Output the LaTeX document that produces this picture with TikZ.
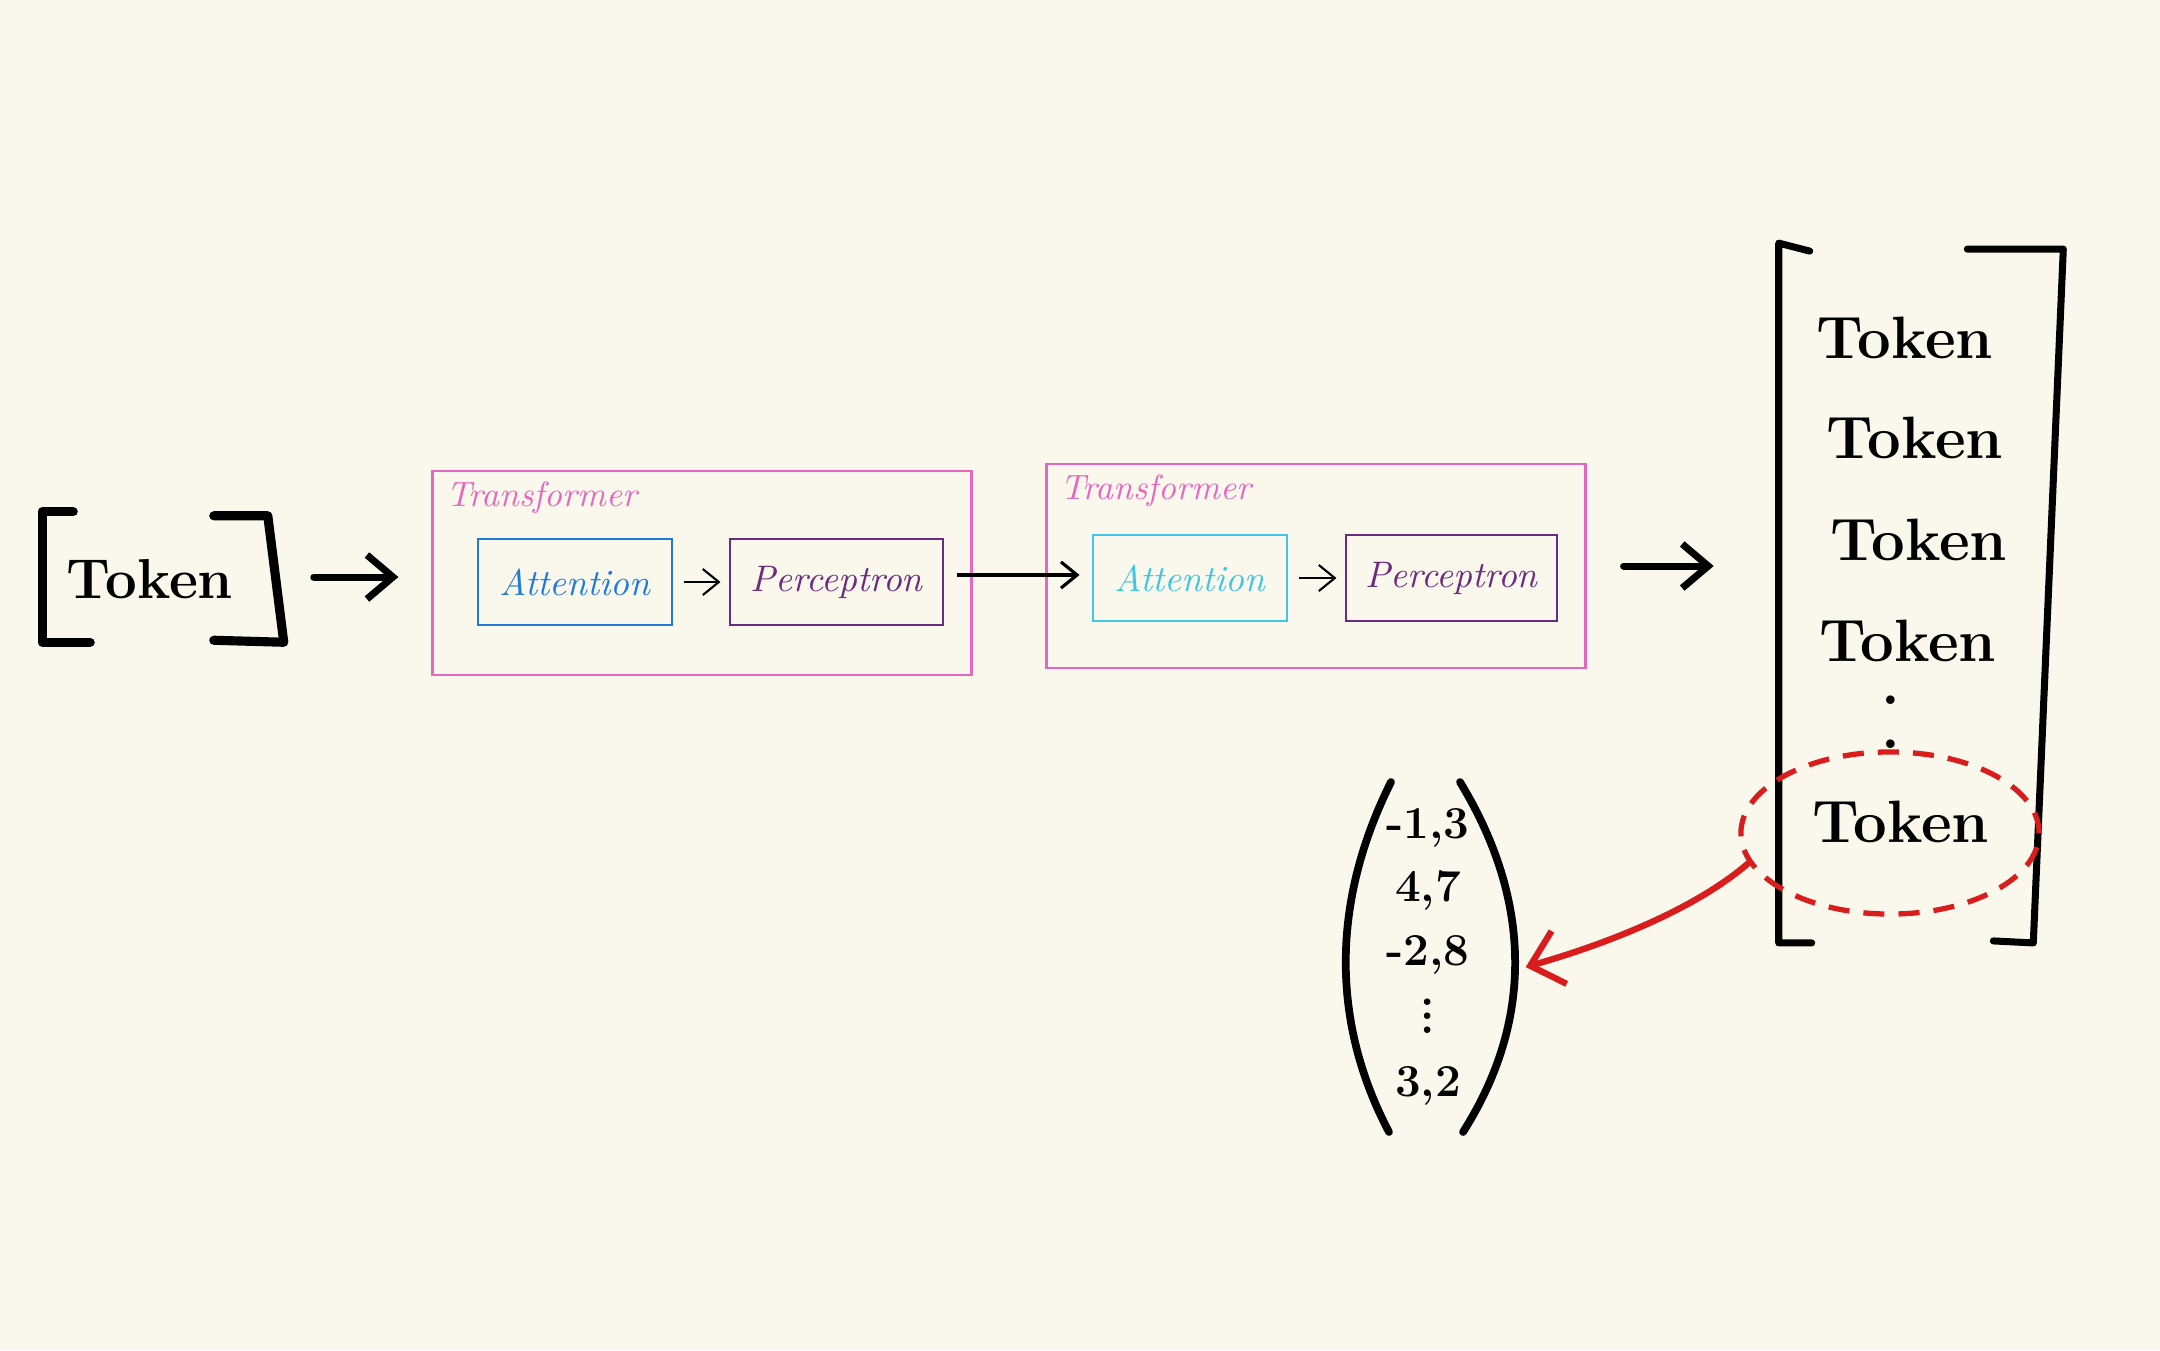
\documentclass[tikz,border=0pt]{standalone}
\usepackage{xcolor}
\usepackage{tikz}
\usetikzlibrary{arrows.meta,positioning,shapes.geometric,fit}
\definecolor{papercream}{HTML}{FAF8EC}
\definecolor{tfpink}{HTML}{E667C0}
\definecolor{attblue}{HTML}{1F7AD8}
\definecolor{attcyan}{HTML}{3FC6E5}
\definecolor{percpurple}{HTML}{6B2B7F}
\definecolor{selred}{HTML}{D91C1C}

\begin{document}
\begin{tikzpicture}[
  x=0.01cm,y=-0.01cm,
  tfbox/.style={draw=tfpink,line width=0.8pt,minimum width=5.38cm,minimum height=2.04cm},
  tflabel/.style={text=tfpink,font=\itshape\fontsize{10}{12}\selectfont,anchor=north west,inner sep=2pt},
  inbox/.style={draw,line width=0.8pt,minimum width=1.94cm,minimum height=0.86cm,font=\itshape\fontsize{10.5}{13}\selectfont},
  tok/.style={font=\bfseries\fontsize{17}{20}\selectfont,inner sep=1pt},
  num/.style={font=\bfseries\fontsize{13}{18}\selectfont,align=center},
  brk/.style={line width=2.6pt,line cap=round,line join=round},
  thinarr/.style={-{Straight Barb[length=1.6mm,width=2.6mm]},line width=0.6pt},
  bigarr/.style={-{Straight Barb[length=2.6mm,width=4.4mm]},line width=2pt,line cap=round}
]
\fill[papercream] (0,0) rectangle (2160,1350);

% input token
\node[minimum width=2.40cm,minimum height=1.29cm] (inseq) at (163,577) {};
\node[tok,font=\bfseries\fontsize{16}{20}\selectfont] (intok) at (150,579) {Token};
\draw[brk] ([shift={(31,0)}]inseq.north west) -- (inseq.north west) -- (inseq.south west) -- ([shift={(48,0)}]inseq.south west);
\draw[brk] ([shift={(-70,4)}]inseq.north east) -- ([shift={(-16,4)}]inseq.north east) -- (inseq.south east) -- ([shift={(-70,-2)}]inseq.south east);

% transformer blocks
\node[tfbox] (tf1) at (702,573) {};
\node[tflabel] (tf1lab) at ([shift={(7,4)}]tf1.north west) {Transformer};
\node[inbox,draw=attblue,text=attblue] (att1) at (575,582) {Attention};
\node[inbox,draw=percpurple,text=percpurple,minimum width=2.13cm,right=0.55cm of att1] (perc1) {Perceptron};

\node[tfbox] (tf2) at (1316,566) {};
\node[tflabel] (tf2lab) at ([shift={(7,4)}]tf2.north west) {Transformer};
\node[inbox,draw=attcyan,text=attcyan] (att2) at (1190,578) {Attention};
\node[inbox,draw=percpurple,text=percpurple,minimum width=2.11cm,right=0.56cm of att2] (perc2) {Perceptron};

\draw[thinarr,shorten <=0.11cm,shorten >=0.08cm] (att1) -- (perc1);
\draw[thinarr,shorten <=0.11cm,shorten >=0.08cm] (att2) -- (perc2);
\draw[thinarr,line width=0.9pt,shorten <=0.13cm,shorten >=0.12cm] ([yshift=2pt]perc1.east) -- ([yshift=2pt]perc1.east -| att2.west);

% output sequence
\node[minimum width=2.83cm,minimum height=6.98cm] (outseq) at (1921,593) {};
\draw[brk,line width=2pt] ([shift={(31,8)}]outseq.north west) -- (outseq.north west) -- (outseq.south west) -- ([shift={(33,0)}]outseq.south west);
\draw[brk,line width=2pt] ([shift={(-96,6)}]outseq.north east) -- ([shift={(0,6)}]outseq.north east) -- ([shift={(-30,0)}]outseq.south east) -- ([shift={(-70,-2)}]outseq.south east);
\node[tok] (out1) at (1905,338) {Token};
\node[tok] (out2) at (1915,438) {Token};
\node[tok] (out3) at (1919,540) {Token};
\node[tok] (out4) at (1908,641) {Token};
\node[tok,align=center,font=\bfseries\fontsize{17}{12.5}\selectfont] (outdots) at (1891,722) {.\\.};
\node[tok] (outlast) at (1901,822) {Token};
\node[ellipse,draw=selred,dashed,dash pattern=on 6pt off 4pt,line width=1.5pt,minimum width=2.98cm,minimum height=1.62cm] (sel) at (1890,833) {};

\draw[bigarr,shorten <=0.30cm,shorten >=0.33cm] (inseq.east) -- (inseq.east -| tf1.west);
\draw[bigarr,shorten <=0.37cm,shorten >=0.65cm] (tf2.east) -- (tf2.east -| outseq.west);

% embedding vector
\node[num,minimum width=1.70cm,minimum height=3.50cm] (vec) at (1428,957) {-1,3\\4,7\\-2,8\\$\vdots$\\3,2};
\draw[brk,line width=2.2pt] ([shift={(-37,-175)}]vec.center) .. controls ([shift={(-97,-55)}]vec.center) and ([shift={(-97,65)}]vec.center) .. ([shift={(-39,175)}]vec.center);
\draw[brk,line width=2.2pt] ([shift={(32,-175)}]vec.center) .. controls ([shift={(105,-55)}]vec.center) and ([shift={(105,65)}]vec.center) .. ([shift={(35,175)}]vec.center);

\draw[selred,-{Straight Barb[length=3mm,width=5.5mm]},line width=1.8pt,line cap=round] (sel.192) .. controls (1700,905) and (1620,940) .. ([shift={(12,10)}]vec.east);
\end{tikzpicture}
\end{document}
